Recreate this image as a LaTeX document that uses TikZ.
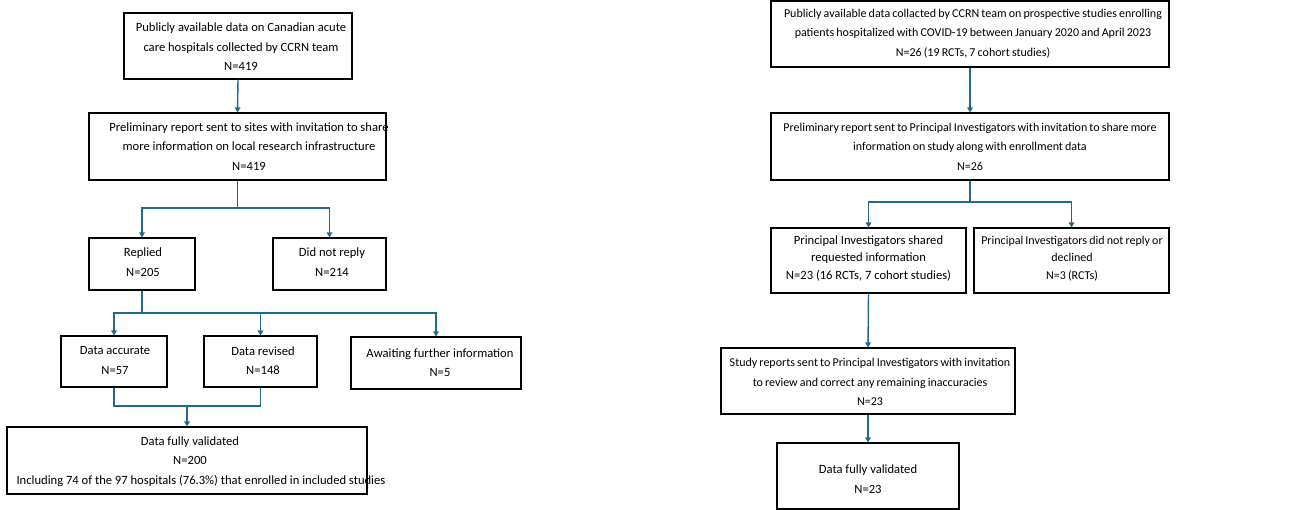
\documentclass[tikz,border=0pt]{standalone}
\usepackage{fontspec}
\setmainfont{Carlito}
\usetikzlibrary{arrows.meta}
\definecolor{arrowc}{HTML}{1F6A8A}
\newcommand\mytightsp{\spaceskip=0.18em plus 0.05em\relax}
\begin{document}
\begin{tikzpicture}[x=1pt,y=-1pt,
  box/.style={draw=black,line width=1.1pt,inner sep=0pt,fill=white},
  txt/.style={align=center,inner sep=0pt,font=\fontsize{12.6}{19.5}\selectfont},
  txtt/.style={align=center,inner sep=0pt,font=\fontsize{12}{19.5}\selectfont\mytightsp},
  txts/.style={align=center,inner sep=0pt,font=\fontsize{12.6}{17.5}\selectfont},
  txtst/.style={align=center,inner sep=0pt,font=\fontsize{12}{17.5}\selectfont\mytightsp},
  lnk/.style={draw=arrowc,line width=1.4pt},
  conn/.style={lnk,-{Triangle[width=5.5pt,length=5pt]}}]
\useasboundingbox (0,0) rectangle (1303,510);
% ---------- left flow ----------
\node[box,minimum width=228pt,minimum height=66pt] (l1) at (238,46) {};
\node[txt] (l1t) at (241,47) {Publicly available data on Canadian acute\\care hospitals collected by CCRN team\\N=419};
\node[box,minimum width=297pt,minimum height=67pt] (l2) at (237.5,146.5) {};
\node[txt] (l2t) at (249,146.5) {Preliminary report sent to sites with invitation to share\\more information on local research infrastructure\\N=419};
\node[box,minimum width=106pt,minimum height=52pt] (rep) at (142,264) {};
\node[txt] (rept) at (143,262) {Replied\\N=205};
\node[box,minimum width=113pt,minimum height=52pt] (dnr) at (329.5,264) {};
\node[txt] (dnrt) at (332,262) {Did not reply\\N=214};
\node[box,minimum width=106pt,minimum height=51pt] (acc) at (114,361.5) {};
\node[txt] (acct) at (115,360.5) {Data accurate\\N=57};
\node[box,minimum width=113pt,minimum height=51pt] (rev) at (260.5,361.5) {};
\node[txt] (revt) at (263,360.5) {Data revised\\N=148};
\node[box,minimum width=170pt,minimum height=52pt] (awt) at (436,363) {};
\node[txt] (awtt) at (440,362.5) {Awaiting further information\\N=5};
\node[box,minimum width=360pt,minimum height=67pt] (fin) at (187,460.5) {};
\node[txt] (fint) at (190,461.5) {Data fully validated\\N=200\\\hspace*{22pt}Including 74 of the 97 hospitals (76.3\%) that enrolled in included studies};
\coordinate (j1) at (237.5,208);
\coordinate (j2) at (142,313);
\coordinate (j3) at (187,406);
\draw[conn] (l1.south) -- (l2.north);
\draw[lnk] (l2.south) -- (j1);
\draw[conn] (j1) -| (rep.north);
\draw[conn] (j1) -| (dnr.north);
\draw[lnk] (rep.south) -- (j2);
\draw[conn] (j2) -| (acc.north);
\draw[conn] (j2) -| (rev.north);
\draw[conn] (j2) -| (awt.north);
\draw[lnk] (acc.south) |- (j3);
\draw[lnk] (rev.south) |- (j3);
\draw[conn] (j3) -- (fin.north);
% ---------- right flow ----------
\node[box,minimum width=398pt,minimum height=66pt] (r1) at (970,34) {};
\node[txtt] (r1t) at (973,33.5) {Publicly available data collacted by CCRN team on prospective studies enrolling\\patients hospitalized with COVID-19 between January 2020 and April 2023\\N=26 (19 RCTs, 7 cohort studies)};
\node[box,minimum width=398pt,minimum height=67pt] (r2) at (970,146.5) {};
\node[txtt] (r2t) at (970,146.5) {Preliminary report sent to Principal Investigators with invitation to share more\\information on study along with enrollment data\\N=26};
\node[box,minimum width=195pt,minimum height=65pt] (r3) at (868.5,260.5) {};
\node[txts] (r3t) at (868.5,258.5) {Principal Investigators shared\\requested information\\N=23 (16 RCTs, 7 cohort studies)};
\node[box,minimum width=195pt,minimum height=65pt] (r4) at (1071.5,260.5) {};
\node[txtst] (r4t) at (1072,258.5) {Principal Investigators did not reply or\\declined\\N=3 (RCTs)};
\node[box,minimum width=294pt,minimum height=66pt] (r5) at (868,381) {};
\node[txtt] (r5t) at (870,382) {Study reports sent to Principal Investigators with invitation\\to review and correct any remaining inaccuracies\\N=23};
\node[box,minimum width=182pt,minimum height=66pt] (r6) at (868,476) {};
\node[txt] (r6t) at (868,479) {Data fully validated\\N=23};
\coordinate (k1) at (970,202);
\draw[conn] (r1.south) -- (r2.north);
\draw[lnk] (r2.south) -- (k1);
\draw[conn] (k1) -| (r3.north);
\draw[conn] (k1) -| (r4.north);
\draw[conn] (r3.south) -- (r5.north);
\draw[conn] (r5.south) -- (r6.north);
\end{tikzpicture}
\end{document}
